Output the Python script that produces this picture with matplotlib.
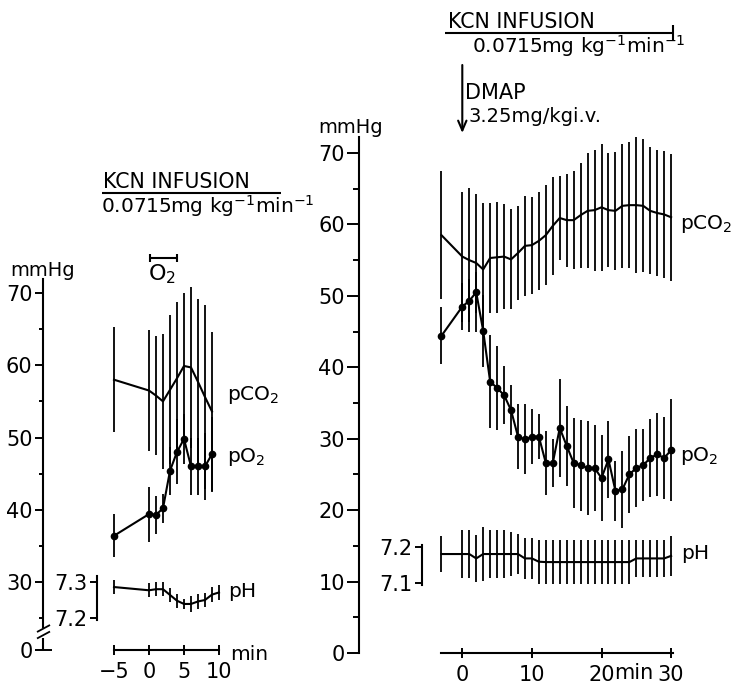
import numpy as np
import matplotlib
matplotlib.use("Agg")
import matplotlib.pyplot as plt
from matplotlib.lines import Line2D
from matplotlib.scale import FuncScale

plt.rcParams['font.family'] = ['DejaVu Sans']
plt.rcParams['mathtext.fontset'] = 'dejavusans'

# ---------------- data: left panel (KCN infusion + O2) ----------------
left_t = [-5, 0, 1, 2, 3, 4, 5, 6, 7, 8, 9]
left_pco2 = [58.0, 56.5, 55.8, 55.0, 56.6, 58.2, 59.9, 59.7, 57.7, 55.6, 53.6]
left_pco2_sd = [7.25, 8.4, 8.25, 9.3, 10.3, 10.5, 10.1, 11.1, 11.5, 12.7, 11.0]
left_po2 = [36.4, 39.4, 39.3, 40.2, 45.4, 48.0, 49.8, 46.0, 46.0, 46.0, 47.7]
left_po2_sd = [3.0, 3.8, 2.6, 2.0, 3.3, 4.5, 3.4, 4.0, 4.0, 4.6, 5.2]
left_ph_t = [-5, 0, 1, 2, 3, 4, 5, 6, 7, 8, 9, 10]
left_ph = [7.286, 7.277, 7.280, 7.280, 7.264, 7.248, 7.239, 7.239, 7.246, 7.250, 7.265, 7.271]
left_ph_sd = [0.020, 0.020, 0.020, 0.020, 0.020, 0.020, 0.015, 0.022, 0.020, 0.020, 0.020, 0.020]

# ---------------- data: right panel (KCN infusion + DMAP) ----------------
right_t = [-3, 0, 1, 2, 3, 4, 5, 6, 7, 8, 9, 10, 11, 12, 13, 14, 15, 16, 17, 18,
           19, 20, 21, 22, 23, 24, 25, 26, 27, 28, 29, 30]
right_pco2 = [58.5, 55.5, 55.0, 54.6, 53.7, 55.3, 55.4, 55.5, 55.1, 56.0, 57.0, 57.1,
              57.7, 58.5, 59.8, 60.9, 60.6, 60.6, 61.3, 61.9, 62.0, 62.4, 62.0, 61.9,
              62.6, 62.7, 62.7, 62.6, 61.9, 61.6, 61.4, 61.0]
right_pco2_sd = [9.0, 9.1, 10.1, 9.6, 9.3, 7.7, 7.8, 7.4, 7.0, 6.6, 6.95, 6.8,
                 6.9, 7.0, 6.85, 5.9, 6.5, 6.85, 7.35, 8.05, 8.45, 8.9, 8.0, 8.25,
                 8.7, 8.85, 9.55, 9.3, 8.9, 8.8, 8.9, 8.9]
right_po2 = [44.4, 48.5, 49.3, 50.5, 45.1, 38.0, 37.1, 36.1, 34.0, 30.3, 29.9, 30.3,
             30.3, 26.6, 26.6, 31.5, 29.0, 26.6, 26.3, 25.9, 25.9, 24.5, 27.1, 22.7,
             22.9, 25.0, 25.9, 26.3, 27.3, 27.8, 27.3, 28.4]
right_po2_sd = [4.0, 3.3, 3.0, 2.9, 5.0, 6.5, 5.9, 4.1, 3.5, 4.5, 4.9, 3.9,
                3.2, 4.5, 3.3, 6.9, 5.6, 6.3, 6.35, 6.6, 6.0, 6.0, 5.4, 4.2,
                5.4, 5.4, 5.4, 5.0, 5.5, 5.85, 5.75, 7.15]
right_ph = [7.180, 7.180, 7.180, 7.168, 7.180, 7.180, 7.180, 7.180, 7.180, 7.180, 7.168, 7.168,
            7.159, 7.158, 7.158, 7.158, 7.158, 7.158, 7.158, 7.158, 7.158, 7.158, 7.158, 7.158,
            7.158, 7.158, 7.168, 7.168, 7.168, 7.168, 7.168, 7.175]
right_ph_sd = [0.048, 0.065, 0.065, 0.065, 0.075, 0.065, 0.065, 0.065, 0.060, 0.055, 0.055, 0.055,
               0.060, 0.060, 0.060, 0.060, 0.060, 0.060, 0.060, 0.060, 0.060, 0.060, 0.060, 0.060,
               0.060, 0.060, 0.050, 0.050, 0.050, 0.050, 0.050, 0.055]

# ticks
left_yticks = [0, 30, 40, 50, 60, 70]
left_yminor = [25, 35, 45, 55, 65]
left_xticks = [-5, 0, 5, 10]
left_phticks = [7.2, 7.3]
right_yticks = [0, 10, 20, 30, 40, 50, 60, 70]
right_yminor = [5, 15, 25, 35, 45, 55, 65]
right_xticks = [0, 10, 20, 30]
right_phticks = [7.1, 7.2]

W, H = 732, 685
fig = plt.figure(figsize=(W / 100, H / 100), dpi=100)


def rect(l, t, r, b):
    return [l / W, 1 - b / H, (r - l) / W, (b - t) / H]


def ftext(x, y, s, **kw):
    kw.setdefault('fontsize', 14)
    kw.setdefault('va', 'baseline')
    return fig.text(x / W, 1 - y / H, s, **kw)


def fline(xs, ys, lw=1.5):
    fig.add_artist(Line2D([x / W for x in xs], [1 - y / H for y in ys],
                          transform=fig.transFigure, color='k', lw=lw,
                          solid_capstyle='butt'))


LW = 1.5
ELW = 1.3
TICKFS = 15

# ---------------- left panel ----------------
K = 0.177  # compression of the broken part 0..25


def fwd(y):
    y = np.asarray(y, dtype=float)
    return np.where(y >= 25, y, 25 - (25 - y) * K)


def inv(y):
    y = np.asarray(y, dtype=float)
    return np.where(y >= 25, y, 25 - (25 - y) / K)


axL = fig.add_axes(rect(43, 274.94, 233, 650.48))
axL.set_yscale(FuncScale(axL.yaxis, (fwd, inv)))
axL.set_xlim(-15.143, 12.0)
axL.set_ylim(-0.3, 72.5)
axL.patch.set_visible(False)

axL.errorbar(left_t, left_pco2, yerr=left_pco2_sd, fmt='-', color='k', lw=LW,
             elinewidth=ELW, capsize=0)
axL.errorbar(left_t, left_po2, yerr=left_po2_sd, fmt='-o', color='k', lw=LW,
             ms=4.5, elinewidth=ELW, capsize=0)

for s in ['top', 'right']:
    axL.spines[s].set_visible(False)
axL.spines['left'].set_linewidth(1.5)
axL.spines['bottom'].set_linewidth(1.5)
axL.spines['left'].set_bounds(18, 72)
axL.spines['bottom'].set_bounds(-5, 10)
axL.set_yticks(left_yticks)
axL.set_yticklabels([str(v) for v in left_yticks])
axL.set_yticks(left_yminor, minor=True)
axL.set_xticks(left_xticks)
axL.set_xticklabels(['\u22125', '0', '5', '10'])
axL.tick_params(axis='y', which='major', length=6, width=1.4, direction='out',
                labelsize=TICKFS, pad=1.5)
axL.tick_params(axis='y', which='minor', length=3.2, width=1.4, direction='out')
axL.tick_params(axis='x', which='major', length=7, width=1.4, direction='inout',
                labelsize=TICKFS, pad=5)
# lower piece of the broken y axis
axL.plot([0, 0], [0, 9.4], color='k', lw=1.5, transform=axL.get_yaxis_transform(),
         clip_on=False, solid_capstyle='butt')
# foot of the axis at 0 and break marks
fline([43, 52], [650.1, 650.1], lw=1.4)
fline([37, 50], [632, 625], lw=1.3)
fline([37, 50], [638.5, 631.5], lw=1.3)

axLph = axL.twinx()
axLph.set_ylim(7.1098, 8.1529)
for s in ['top', 'right', 'bottom']:
    axLph.spines[s].set_visible(False)
axLph.spines['left'].set_visible(True)
axLph.spines['left'].set_position(('data', -7.43))
axLph.spines['left'].set_bounds(7.195, 7.317)
axLph.spines['left'].set_linewidth(1.5)
axLph.yaxis.tick_left()
axLph.set_yticks(left_phticks)
axLph.set_yticklabels(['7.2', '7.3'])
axLph.tick_params(axis='y', length=5, width=1.4, direction='out', labelsize=TICKFS, pad=2)
axLph.errorbar(left_ph_t, left_ph, yerr=left_ph_sd, fmt='-', color='k', lw=LW,
               elinewidth=ELW, capsize=0)

# ---------------- right panel ----------------
axR = fig.add_axes(rect(359, 137, 675, 653))
axR.set_xlim(-14.842, 30.560)
axR.set_ylim(0, 72.24)
axR.patch.set_visible(False)
axR.errorbar(right_t, right_pco2, yerr=right_pco2_sd, fmt='-', color='k', lw=LW,
             elinewidth=ELW, capsize=0)
axR.errorbar(right_t, right_po2, yerr=right_po2_sd, fmt='-o', color='k', lw=LW,
             ms=4.5, elinewidth=ELW, capsize=0)
for s in ['top', 'right']:
    axR.spines[s].set_visible(False)
axR.spines['left'].set_linewidth(1.5)
axR.spines['bottom'].set_linewidth(1.5)
axR.spines['left'].set_bounds(0, 72.24)
axR.spines['bottom'].set_bounds(-3, 30.3)
axR.set_yticks(right_yticks)
axR.set_yticklabels([str(v) for v in right_yticks])
axR.set_yticks(right_yminor, minor=True)
axR.set_xticks(right_xticks)
axR.set_xticklabels([str(v) for v in right_xticks])
axR.tick_params(axis='y', which='major', length=8.6, width=1.4, direction='out',
                labelsize=TICKFS, pad=1.5)
axR.tick_params(axis='y', which='minor', length=4.3, width=1.4, direction='out')
axR.tick_params(axis='x', which='major', length=7, width=1.4, direction='inout',
                labelsize=TICKFS, pad=5)

axRph = axR.twinx()
axRph.set_ylim(6.9096, 8.3194)
for s in ['top', 'right', 'bottom']:
    axRph.spines[s].set_visible(False)
axRph.spines['left'].set_visible(True)
axRph.spines['left'].set_position(('data', -5.83))
axRph.spines['left'].set_bounds(7.095, 7.205)
axRph.spines['left'].set_linewidth(1.5)
axRph.yaxis.tick_left()
axRph.set_yticks(right_phticks)
axRph.set_yticklabels(['7.1', '7.2'])
axRph.tick_params(axis='y', length=5, width=1.4, direction='out', labelsize=TICKFS, pad=2)
axRph.errorbar(right_t, right_ph, yerr=right_ph_sd, fmt='-', color='k', lw=LW,
               elinewidth=ELW, capsize=0)

# ---------------- annotations ----------------
# left panel
ftext(10, 276, 'mmHg')
ftext(103, 188.5, 'KCN INFUSION', fontsize=14.8)
fline([102, 281], [192.5, 192.5])
ftext(101, 213, '0.0715mg kg$^{-1}$min$^{-1}$', fontsize=14.5)
fline([150, 177], [257.5, 257.5])
fline([150, 150], [254, 262])
fline([177, 177], [254, 262])
ftext(148, 280, 'O$_2$', fontsize=16)
ftext(227, 400, 'pCO$_2$', fontsize=14.5)
ftext(227, 462, 'pO$_2$', fontsize=14.5)
ftext(228, 597, 'pH', fontsize=14.5)
ftext(230, 660, 'min', fontsize=14.5)

# right panel
ftext(448, 28.5, 'KCN INFUSION', fontsize=14.8)
fline([445, 673], [32.5, 32.5])
fline([673, 673], [25, 40])
ftext(472, 53, '0.0715mg kg$^{-1}$min$^{-1}$', fontsize=14.5)
axR.annotate('', xy=(462.3, H - 133), xycoords='figure pixels',
             xytext=(462.3, H - 65), textcoords='figure pixels',
             arrowprops=dict(arrowstyle='->,head_length=0.7,head_width=0.3',
                             lw=1.5, color='k', shrinkA=0, shrinkB=0))
ftext(465, 99, 'DMAP', fontsize=15)
ftext(468, 121.5, '3.25mg/kgi.v.', fontsize=14)
ftext(318, 133, 'mmHg')
ftext(680, 229, 'pCO$_2$', fontsize=14.5)
ftext(680, 461, 'pO$_2$', fontsize=14.5)
ftext(681, 559, 'pH', fontsize=14.5)
ftext(614, 679, 'min', fontsize=15)

fig.savefig('out.png', dpi=100)
